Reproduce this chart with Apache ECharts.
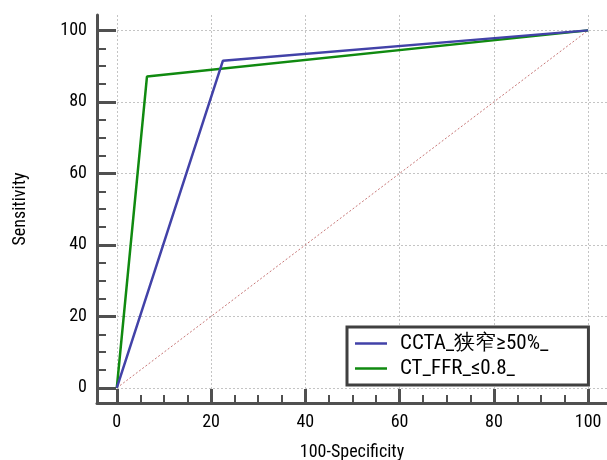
<!DOCTYPE html>
<html><head><meta charset="utf-8">
<script src="https://cdn.jsdelivr.net/npm/echarts@6/dist/echarts.min.js"></script>
<style>html,body{margin:0;padding:0;background:#fff}#c{width:607px;height:460px}</style>
</head><body><div id="c"></div>
<script>
const majorTicks = [0, 20, 40, 60, 80, 100];
const minorTicks = [5, 10, 15, 25, 30, 35, 45, 50, 55, 65, 70, 75, 85, 90, 95];
const seriesNames = ['CCTA_狭窄≥50%_', 'CT_FFR_≤0.8_'];
const ccta_fpr = [0, 22.5, 100];
const ccta_sens = [0, 91.5, 100];
const ffr_fpr = [0, 6.4, 100];
const ffr_sens = [0, 87.1, 100];
const diag_fpr = [0, 100];
const diag_sens = [0, 100];

const FONT = '"Roboto Condensed", sans-serif';
const zip = (a, b) => a.map((v, i) => [v, b[i]]);
const axisColor = '#505050';

const chart = echarts.init(document.getElementById('c'), null, {renderer: 'canvas'});
chart.setOption({
  animation: false,
  backgroundColor: '#fff',
  grid: {left: 97, right: 0, top: 15, bottom: 57, containLabel: false, outerBoundsMode: 'none'},
  xAxis: [{
    type: 'value', min: -4.2, max: 104, position: 'bottom',
    name: '100-Specificity', nameLocation: 'middle', nameGap: 40,
    nameTextStyle: {fontFamily: FONT, fontSize: 18, color: '#000'},
    axisLine: {show: true, onZero: false, lineStyle: {color: axisColor, width: 3}},
    axisTick: {show: true, inside: true, length: 14, customValues: majorTicks, lineStyle: {color: axisColor, width: 3}},
    axisLabel: {customValues: majorTicks, margin: 10, fontFamily: FONT, fontSize: 18, color: '#000'},
    splitLine: {show: true, lineStyle: {color: '#c4c4c4', type: [2, 2], width: 1}}
  }, {
    type: 'value', min: -4.2, max: 104, position: 'bottom',
    axisLine: {show: false, onZero: false},
    axisTick: {show: true, inside: true, length: 8, customValues: minorTicks, lineStyle: {color: axisColor, width: 2}},
    axisLabel: {show: false},
    splitLine: {show: false}
  }],
  yAxis: [{
    type: 'value', min: -4.2, max: 104.3, position: 'left',
    name: 'Sensitivity', nameLocation: 'middle', nameGap: 68, nameRotate: 90,
    nameTextStyle: {fontFamily: FONT, fontSize: 18, color: '#000'},
    axisLine: {show: true, onZero: false, lineStyle: {color: axisColor, width: 3}},
    axisTick: {show: true, inside: true, length: 19, customValues: majorTicks, lineStyle: {color: axisColor, width: 3}},
    axisLabel: {customValues: majorTicks, margin: 10, fontFamily: FONT, fontSize: 18, color: '#000'},
    splitLine: {show: true, lineStyle: {color: '#c4c4c4', type: [2, 2], width: 1}}
  }, {
    type: 'value', min: -4.2, max: 104.3, position: 'left',
    axisLine: {show: false, onZero: false},
    axisTick: {show: true, inside: true, length: 9, customValues: minorTicks, lineStyle: {color: axisColor, width: 2}},
    axisLabel: {show: false},
    splitLine: {show: false}
  }],
  legend: {
    orient: 'vertical', left: 347, top: 327,
    padding: [6, 40, 6, 8], itemGap: 4,
    backgroundColor: '#fff', borderColor: '#404040', borderWidth: 3, borderRadius: 0,
    icon: 'rect', itemWidth: 32, itemHeight: 2.5,
    textStyle: {fontFamily: FONT, fontSize: 21, color: '#000', padding: [0, 0, 0, 8]},
    data: seriesNames
  },
  series: [{
    type: 'line', name: 'diag', data: zip(diag_fpr, diag_sens), showSymbol: false, z: 1,
    lineStyle: {color: '#c87878', width: 1, type: [2, 2]}, silent: true
  }, {
    type: 'line', name: seriesNames[0], data: zip(ccta_fpr, ccta_sens), showSymbol: false, z: 3,
    color: '#4242a8', lineStyle: {color: '#4242a8', width: 2.5}
  }, {
    type: 'line', name: seriesNames[1], data: zip(ffr_fpr, ffr_sens), showSymbol: false, z: 2,
    color: '#108a10', lineStyle: {color: '#108a10', width: 2.5}
  }]
});
</script></body></html>
